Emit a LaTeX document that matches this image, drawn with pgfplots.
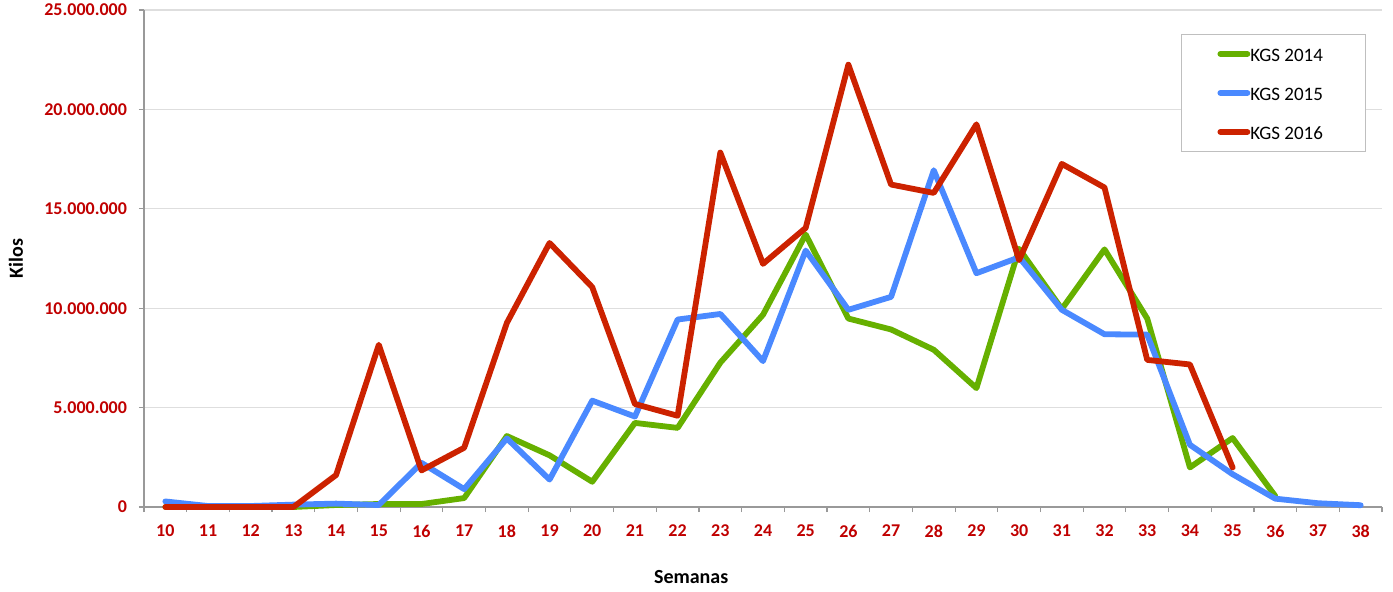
\documentclass[border=0pt]{standalone}
\usepackage{pgfplots}
\pgfplotsset{compat=1.18}
\usepackage{fontspec}
\setmainfont{Carlito}
\definecolor{cgreen}{RGB}{102,176,0}
\definecolor{cblue}{RGB}{74,137,255}
\definecolor{cred}{RGB}{204,34,0}
\definecolor{ctick}{RGB}{192,0,0}
\begin{document}
\begin{tikzpicture}
\begin{axis}[
  at={(0,0)}, anchor=south west,
  scale only axis, width=619pt, height=248.5pt,
  xmin=9.5, xmax=38.5, ymin=0, ymax=25000000,
  clip=false,
  axis lines*=left,
  axis line style={draw=black!40, line width=0.6pt},
  xtick={10,...,38},
  minor xtick={9.5,10.5,...,38.5},
  major x tick style={draw=none},
  minor tick length=2.5pt, major tick length=2.5pt,
  tick align=outside,
  tick style={draw=black!40, line width=0.6pt},
  ytick={0,5000000,10000000,15000000,20000000,25000000},
  yticklabels={0,5.000.000,10.000.000,15.000.000,20.000.000,25.000.000},
  ymajorgrids, major grid style={draw=black!13, line width=0.6pt},
  ticklabel style={font=\fontsize{9}{10}\selectfont\bfseries, text=ctick},
  xticklabel style={yshift=-3pt},
  yticklabel style={xshift=-2.5pt},
  /pgf/number format/assume math mode=true,
  scaled y ticks=false,
  xlabel={Semanas},
  ylabel={Kilos},
  label style={font=\fontsize{10}{12}\selectfont\bfseries, text=black},
  xlabel style={at={(axis description cs:0.442,0)}, anchor=center, yshift=-35pt},
  ylabel style={at={(axis description cs:-0.1034,0.5)}, anchor=center},
  legend style={at={(0.8377,0.9517)}, anchor=north west, draw=black!25, fill=white,
    font=\fontsize{9.5}{11}\selectfont, inner xsep=18pt, inner ysep=6pt,
    row sep=12pt, nodes={inner sep=0pt, text height=7.5pt, text depth=0pt}},
  legend cell align=left,
  legend image code/.code={\draw[#1, line cap=round] (1.5pt,0pt) -- (15pt,0pt);},
  every axis plot/.append style={line width=2.9pt, line join=round, line cap=round},
]
\addplot[cgreen] coordinates {
(10,0) (11,0) (12,0) (13,0) (14,100000) (15,150000) (16,150000) (17,450000)
(18,3570000) (19,2600000) (20,1270000) (21,4230000) (22,3980000) (23,7260000)
(24,9670000) (25,13710000) (26,9480000) (27,8930000) (28,7910000) (29,5980000)
(30,12990000) (31,9960000) (32,12960000) (33,9480000) (34,1990000) (35,3470000)
(36,550000)};
\addlegendentry{KGS 2014\hspace*{3pt}}
\addplot[cblue] coordinates {
(10,280000) (11,50000) (12,50000) (13,120000) (14,170000) (15,100000) (16,2220000)
(17,900000) (18,3450000) (19,1380000) (20,5350000) (21,4550000) (22,9430000)
(23,9710000) (24,7340000) (25,12900000) (26,9920000) (27,10570000) (28,16940000)
(29,11760000) (30,12560000) (31,9920000) (32,8690000) (33,8670000) (34,3130000)
(35,1650000) (36,420000) (37,190000) (38,90000)};
\addlegendentry{KGS 2015\hspace*{3pt}}
\addplot[cred] coordinates {
(10,0) (11,0) (12,0) (13,0) (14,1610000) (15,8160000) (16,1840000) (17,2980000)
(18,9260000) (19,13280000) (20,11060000) (21,5180000) (22,4590000) (23,17830000)
(24,12230000) (25,14040000) (26,22250000) (27,16220000) (28,15800000) (29,19250000)
(30,12420000) (31,17260000) (32,16070000) (33,7400000) (34,7170000) (35,1990000)};
\addlegendentry{KGS 2016\hspace*{3pt}}
\end{axis}
\pgfresetboundingbox
\path[use as bounding box] (-72pt,-42pt) rectangle (624.5pt,253.5pt);
\end{tikzpicture}
\end{document}
